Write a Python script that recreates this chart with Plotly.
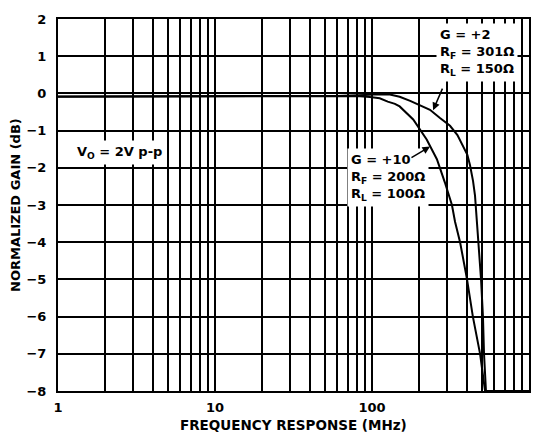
import math
import plotly.graph_objects as go

# ---- data ----
g2_freq = [1, 10, 30, 60, 90, 110, 130, 150, 175, 205, 234, 271, 314, 350, 380, 405, 421, 440, 453, 466, 473, 495, 509, 517, 532, 1000]
g2_gain = [-0.08, -0.08, -0.08, -0.07, -0.04, -0.02, -0.03, -0.09, -0.2, -0.32, -0.44, -0.66, -0.87, -1.12, -1.40, -1.65, -1.93, -2.35, -2.75, -3.45, -4.0, -5.0, -6.0, -7.0, -8.0, -8.0]

g10_freq = [1, 10, 30, 60, 80, 97, 112, 126, 140, 150, 183, 223, 259, 291, 323, 338, 364, 403, 439, 488, 525, 1000]
g10_gain = [-0.09, -0.09, -0.09, -0.08, -0.07, -0.1, -0.13, -0.22, -0.28, -0.35, -0.7, -1.24, -1.77, -2.39, -3.0, -3.45, -4.0, -5.0, -6.0, -7.0, -8.0, -8.0]

x_decades = [1, 10, 100, 1000]
x_decade_labels = ["1", "10", "100", "1000"]
x_minor = [m * d for d in [1, 10, 100] for m in range(2, 10)]
y_ticks = [-8, -7, -6, -5, -4, -3, -2, -1, 0, 1, 2]
y_tick_labels = ["\u22128", "\u22127", "\u22126", "\u22125", "\u22124", "\u22123", "\u22122", "\u22121", "0", "1", "2"]

FONT = "DejaVu Sans"
INK = "#000000"

fig = go.Figure()
fig.add_trace(go.Scatter(x=g2_freq, y=g2_gain, mode="lines",
                         line=dict(color=INK, width=2), showlegend=False))
fig.add_trace(go.Scatter(x=g10_freq, y=g10_gain, mode="lines",
                         line=dict(color=INK, width=2), showlegend=False))

W, H = 545, 433
L, R, T, B = 58, 16, 15, 42
pw, ph = W - L - R, H - T - B


def px(X):
    return (X - L) / pw


def py(Y):
    return (H - B - Y) / ph


tfont = dict(family=FONT, size=13, color=INK, weight="bold")

annotations = [
    dict(text="V<sub>O</sub> = 2V p-p", x=px(119), y=py(150), xref="paper", yref="paper",
         xanchor="center", yanchor="middle", showarrow=False, font=tfont,
         bgcolor="white", borderpad=3),
    dict(text="G = +2<br>R<sub>F</sub> = 301\u03a9<br>R<sub>L</sub> = 150\u03a9",
         x=px(436), y=py(49), xref="paper", yref="paper", xanchor="left", yanchor="middle",
         align="left", showarrow=False, font=tfont, bgcolor="white", borderpad=3),
    dict(text="G = +10<br>R<sub>F</sub> = 200\u03a9<br>R<sub>L</sub> = 100\u03a9",
         x=px(347), y=py(175), xref="paper", yref="paper", xanchor="left", yanchor="middle",
         align="left", showarrow=False, font=tfont, bgcolor="white", borderpad=3),
    dict(text="", x=math.log10(245), y=-0.45, xref="x", yref="y", showarrow=True,
         ax=10, ay=-23, arrowhead=2, arrowsize=1, arrowwidth=1.5, arrowcolor=INK),
    dict(text="", x=math.log10(234), y=-1.43, xref="x", yref="y", showarrow=True,
         ax=-20, ay=12, arrowhead=2, arrowsize=1, arrowwidth=1.5, arrowcolor=INK),
    dict(text="FREQUENCY RESPONSE (MHz)", x=0.5, y=py(425.5), xref="paper", yref="paper",
         xanchor="center", yanchor="middle", showarrow=False,
         font=dict(family=FONT, size=13.5, color=INK, weight="bold")),
    dict(text="NORMALIZED GAIN (dB)", x=px(15), y=0.5, xref="paper", yref="paper",
         xanchor="center", yanchor="middle", showarrow=False, textangle=-90,
         font=dict(family=FONT, size=13, color=INK, weight="bold")),
]

fig.update_layout(
    width=W, height=H, autosize=False,
    margin=dict(l=L, r=R, t=T, b=B),
    paper_bgcolor="white", plot_bgcolor="white",
    font=dict(family=FONT, color=INK),
    annotations=annotations,
)
fig.update_xaxes(type="log", range=[0, 3], tickvals=x_decades, ticktext=x_decade_labels,
                 showgrid=True, gridcolor=INK, gridwidth=1.5,
                 minor=dict(tickvals=x_minor, showgrid=True, gridcolor=INK, gridwidth=1.5, ticks=""),
                 showline=True, linecolor=INK, linewidth=2, mirror=True,
                 ticks="", ticklabelstandoff=3,
                 tickfont=dict(family=FONT, size=13, color=INK, weight="bold"))
fig.update_yaxes(range=[-8, 2], tickvals=y_ticks, ticktext=y_tick_labels,
                 showgrid=True, gridcolor=INK, gridwidth=1.5, zeroline=False,
                 showline=True, linecolor=INK, linewidth=2, mirror=True,
                 ticks="", ticklabelstandoff=7,
                 tickfont=dict(family=FONT, size=13, color=INK, weight="bold"))

fig.write_html("out.html", config={"displayModeBar": False},
               post_script="document.body.style.margin='0';document.body.style.padding='0';")
